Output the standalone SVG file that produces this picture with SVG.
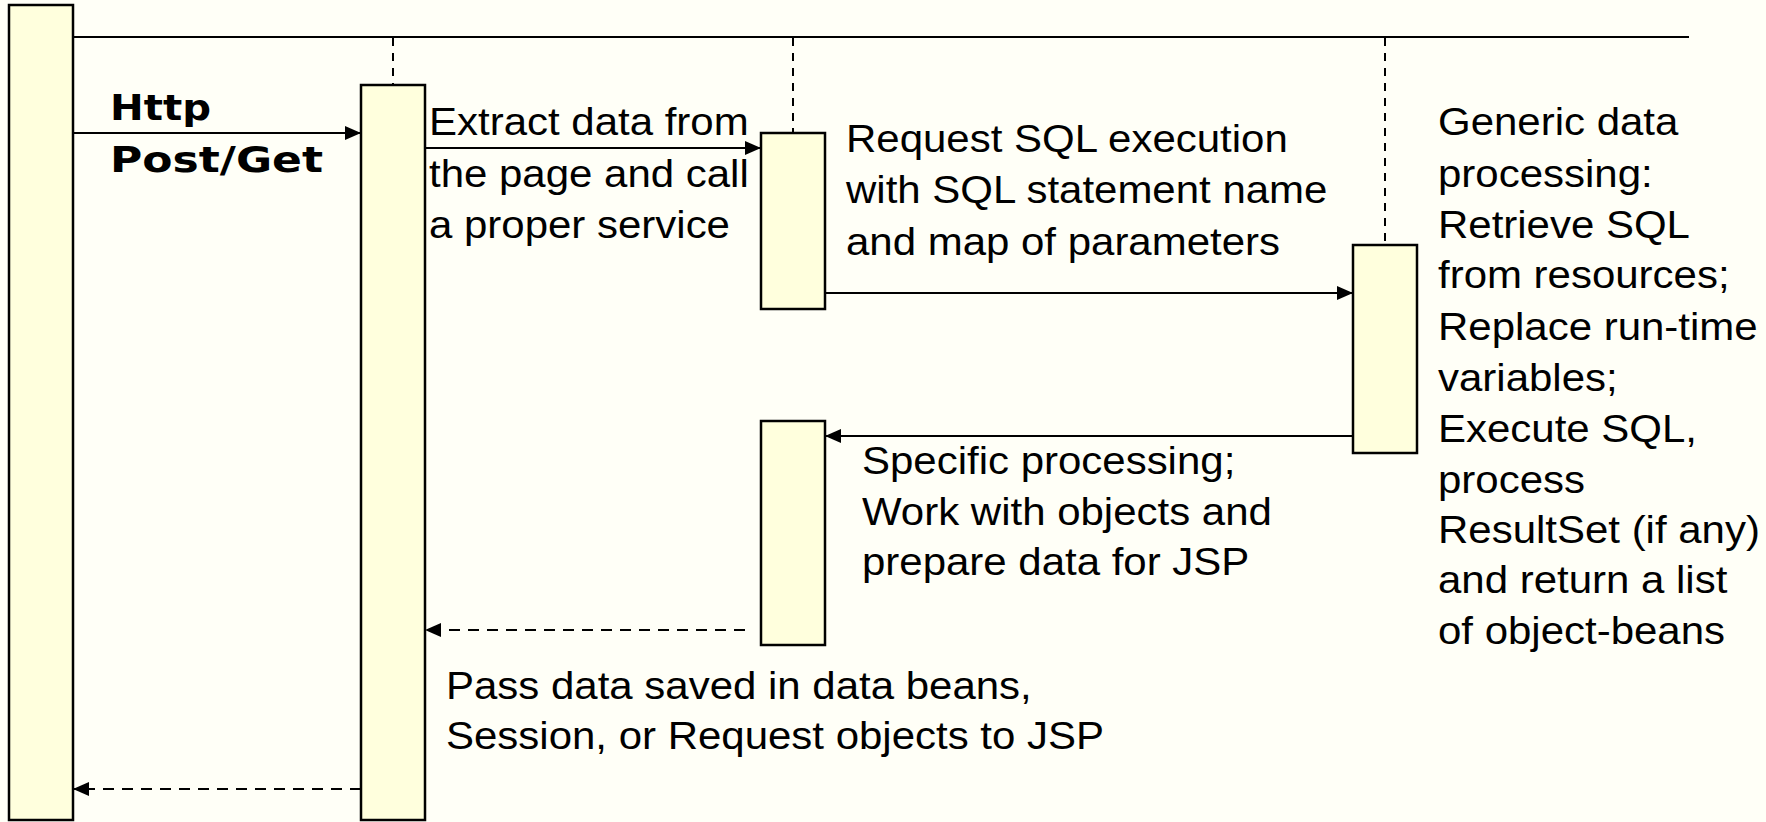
<svg xmlns="http://www.w3.org/2000/svg" width="1766" height="822" viewBox="0 0 1766 822">
  <defs>
    <style>
      .bg { fill: #FFFFF7; }
      .act { fill: #FFFFDD; stroke: #000; stroke-width: 2.5; }
      .frame { stroke: #000; stroke-width: 2.2; fill: none; }
      .life { stroke: #000; stroke-width: 2; stroke-dasharray: 8 7; fill: none; }
      .msg { stroke: #000; stroke-width: 2.2; fill: none; marker-end: url(#head); }
      .ret { stroke: #000; stroke-width: 2.2; stroke-dasharray: 11 8; fill: none; marker-end: url(#head); }
      .t { font-family: "Liberation Sans", Arial, sans-serif; font-size: 38px; fill: #000; }
      .b { font-family: "DejaVu Sans", Verdana, sans-serif; font-size: 36px; font-weight: bold; fill: #000; }
    </style>
    <marker id="head" markerUnits="userSpaceOnUse" markerWidth="17" markerHeight="14" refX="16" refY="7" orient="auto">
      <path d="M0,0 L16,7 L0,14 Z" fill="#000"/>
    </marker>
  </defs>

  <rect class="bg" x="0" y="0" width="1766" height="822"/>

  <!-- frame line and lifelines -->
  <g id="frame">
    <line class="frame" x1="73" y1="37" x2="1689" y2="37"/>
    <line class="life" x1="393" y1="38" x2="393" y2="85"/>
    <line class="life" x1="793" y1="38" x2="793" y2="133"/>
    <line class="life" x1="1385" y1="38" x2="1385" y2="245"/>
  </g>

  <!-- activation bars -->
  <g id="client"><rect class="act" x="9" y="5" width="64" height="815"/></g>
  <g id="controller"><rect class="act" x="361" y="85" width="64" height="735"/></g>
  <g id="service-call"><rect class="act" x="761" y="133" width="64" height="176"/></g>
  <g id="service-return"><rect class="act" x="761" y="421" width="64" height="224"/></g>
  <g id="sql-processor"><rect class="act" x="1353" y="245" width="64" height="208"/></g>

  <!-- messages -->
  <g id="connectors">
    <line class="msg" x1="73" y1="133" x2="361" y2="133"/>
    <line class="msg" x1="425" y1="148" x2="761" y2="148"/>
    <line class="msg" x1="825" y1="293" x2="1353" y2="293"/>
    <line class="msg" x1="1353" y1="436" x2="825" y2="436"/>
    <line class="ret" x1="745" y1="630" x2="425" y2="630"/>
    <line class="ret" x1="361" y1="789" x2="73" y2="789"/>
  </g>

  <!-- labels -->
  <g id="labels">
    <text class="b" x="110" y="120" textLength="101" lengthAdjust="spacingAndGlyphs">Http</text>
    <text class="b" x="110" y="172" textLength="213" lengthAdjust="spacingAndGlyphs">Post/Get</text>

    <text class="t" transform="matrix(1.105 0 0 1 429 0)">
      <tspan x="0" y="135">Extract data from</tspan>
      <tspan x="0" y="186.7">the page and call</tspan>
      <tspan x="0" y="238.3">a proper service</tspan>
    </text>

    <text class="t" transform="matrix(1.105 0 0 1 846 0)">
      <tspan x="0" y="151.7">Request SQL execution</tspan>
      <tspan x="0" y="203.3">with SQL statement name</tspan>
      <tspan x="0" y="255">and map of parameters</tspan>
    </text>

    <text class="t" transform="matrix(1.105 0 0 1 1438 0)">
      <tspan x="0" y="135">Generic data</tspan>
      <tspan x="0" y="186.7">processing:</tspan>
      <tspan x="0" y="238.3">Retrieve SQL</tspan>
      <tspan x="0" y="288.3">from resources;</tspan>
      <tspan x="0" y="340">Replace run-time</tspan>
      <tspan x="0" y="390.7">variables;</tspan>
      <tspan x="0" y="441.7">Execute SQL,</tspan>
      <tspan x="0" y="493">process</tspan>
      <tspan x="0" y="543">ResultSet (if any)</tspan>
      <tspan x="0" y="593">and return a list</tspan>
      <tspan x="0" y="644">of object-beans</tspan>
    </text>

    <text class="t" transform="matrix(1.105 0 0 1 862 0)">
      <tspan x="0" y="474">Specific processing;</tspan>
      <tspan x="0" y="525">Work with objects and</tspan>
      <tspan x="0" y="575">prepare data for JSP</tspan>
    </text>

    <text class="t" transform="matrix(1.105 0 0 1 446 0)">
      <tspan x="0" y="699">Pass data saved in data beans,</tspan>
      <tspan x="0" y="749">Session, or Request objects to JSP</tspan>
    </text>
  </g>
</svg>
